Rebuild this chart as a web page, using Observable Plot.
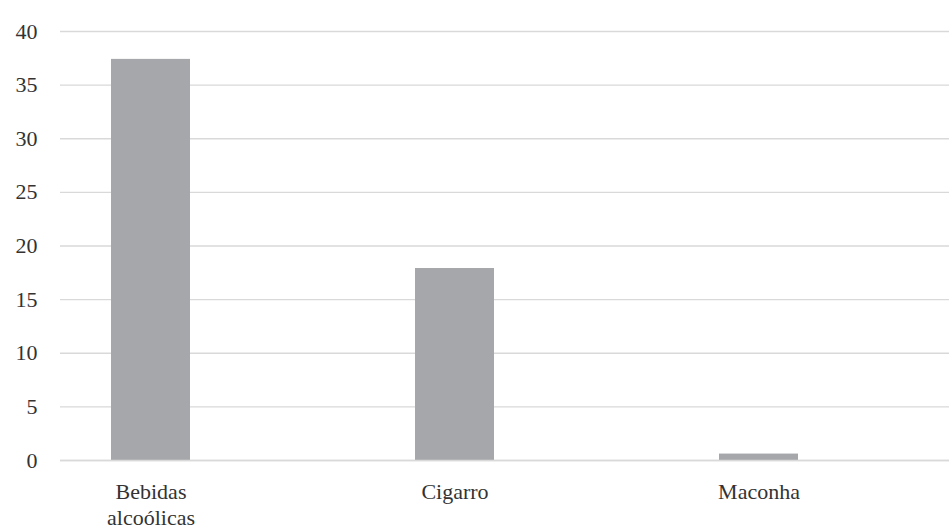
<!DOCTYPE html>
<html>
<head>
<meta charset="utf-8">
<script src="https://cdn.jsdelivr.net/npm/d3@7"></script>
<script src="https://cdn.jsdelivr.net/npm/@observablehq/plot@0.6"></script>
<style>
  html, body { margin: 0; padding: 0; background: #fff; }
  #chart { width: 949px; height: 530px; }
  #chart svg, #chart svg text { font-family: "Liberation Serif", serif !important; }
</style>
</head>
<body>
<div id="chart"></div>
<script>
const categories = ["Bebidas alcoólicas", "Cigarro", "Maconha"];
const values = [37.4, 17.9, 0.6];
const yTicks = [0, 5, 10, 15, 20, 25, 30, 35, 40];

const data = categories.map((c, i) => ({category: c, value: values[i]}));

const chart = Plot.plot({
  width: 949,
  height: 530,
  marginLeft: 60,
  marginRight: 0,
  marginTop: 31,
  marginBottom: 70,
  style: {fontFamily: "Liberation Serif, serif", fontSize: "22px", color: "#333"},
  x: {domain: categories, paddingInner: 0.741, paddingOuter: 0.328, align: 0.25, label: null},
  y: {domain: [0, 40], ticks: yTicks, label: null},
  marks: [
    Plot.gridY(yTicks, {stroke: "#d9d9d9", strokeOpacity: 1, strokeWidth: 1.3}),
    Plot.barY(data, {x: "category", y: "value", fill: "#a6a7aa"}),
    Plot.ruleY([0], {stroke: "#d9d9d9", strokeWidth: 1.5}),
    Plot.axisY(yTicks, {tickSize: 0, tickPadding: 23, label: null, fontSize: 22, fill: "#333"}),
    Plot.axisX({tickSize: 0, tickPadding: 20, label: null, fontSize: 22, fill: "#333", lineHeight: 1.17,
      tickFormat: d => d.replace(" ", "\n")})
  ]
});
document.getElementById("chart").appendChild(chart);
</script>
</body>
</html>
